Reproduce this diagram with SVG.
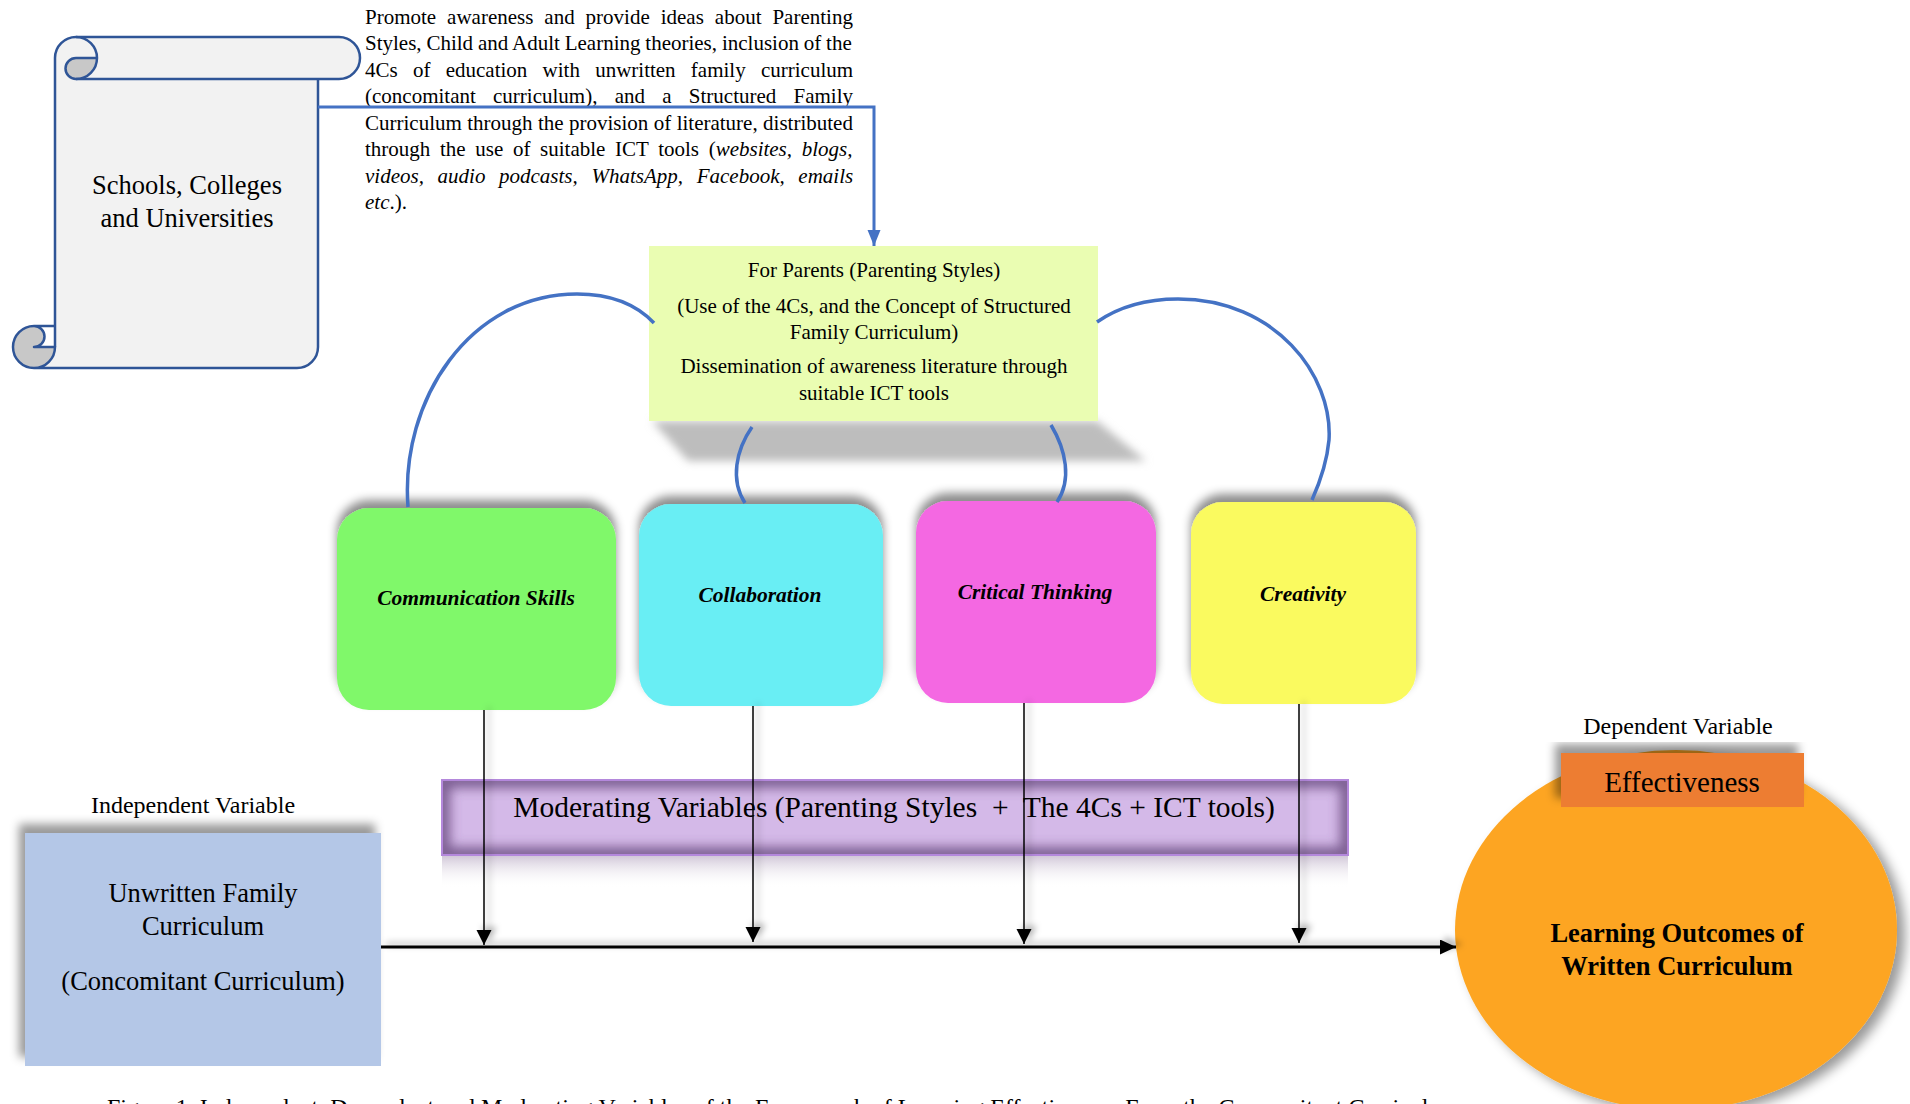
<svg xmlns="http://www.w3.org/2000/svg" width="1910" height="1104" viewBox="0 0 1910 1104">
  <defs>
    <style>
      .serif { font-family: "Liberation Serif", "Times New Roman", serif; fill: #000; }
      .para { font-size: 21px; }
      .lbl24 { font-size: 24px; }
      .four { font-size: 21.5px; font-weight: bold; font-style: italic; }
      .big { font-size: 26.5px; }
      .arc { fill: none; stroke: #4472C4; stroke-width: 3.5; }
      .vline { fill: none; stroke: #000; stroke-width: 1.5; marker-end: url(#arrowV); }
      .scroll-line { fill: none; stroke: #2F5597; stroke-width: 2.5; stroke-linejoin: round; }
    </style>
    <marker id="arrowV" markerUnits="userSpaceOnUse" markerWidth="16" markerHeight="16" refX="15" refY="7.5" orient="auto">
      <path d="M0,0 L15,7.5 L0,15 Z" fill="#000"/>
    </marker>
    <marker id="arrowH" markerUnits="userSpaceOnUse" markerWidth="18" markerHeight="16" refX="16" refY="7.5" orient="auto">
      <path d="M0,0 L16,7.5 L0,15 Z" fill="#000"/>
    </marker>
    <marker id="arrowBlue" markerUnits="userSpaceOnUse" markerWidth="18" markerHeight="16" refX="16" refY="6.5" orient="auto">
      <path d="M0,0 L16,6.5 L0,13 Z" fill="#4472C4"/>
    </marker>
    <filter id="shTop" x="-20%" y="-20%" width="140%" height="140%">
      <feGaussianBlur in="SourceAlpha" stdDeviation="5"/>
      <feOffset dx="0" dy="-8" result="o"/>
      <feFlood flood-color="#000" flood-opacity="0.45"/>
      <feComposite in2="o" operator="in"/>
      <feMerge><feMergeNode/><feMergeNode in="SourceGraphic"/></feMerge>
    </filter>
    <filter id="shTL" x="-20%" y="-20%" width="140%" height="140%">
      <feGaussianBlur in="SourceAlpha" stdDeviation="5"/>
      <feOffset dx="-6" dy="-9" result="o"/>
      <feFlood flood-color="#000" flood-opacity="0.4"/>
      <feComposite in2="o" operator="in"/>
      <feMerge><feMergeNode/><feMergeNode in="SourceGraphic"/></feMerge>
    </filter>
    <filter id="shBR" x="-20%" y="-20%" width="140%" height="140%">
      <feGaussianBlur in="SourceAlpha" stdDeviation="6"/>
      <feOffset dx="8" dy="5" result="o"/>
      <feFlood flood-color="#000" flood-opacity="0.4"/>
      <feComposite in2="o" operator="in"/>
      <feMerge><feMergeNode/><feMergeNode in="SourceGraphic"/></feMerge>
    </filter>
    <filter id="shLine" x="-50%" y="-50%" width="200%" height="200%">
      <feGaussianBlur in="SourceAlpha" stdDeviation="3"/>
      <feOffset dx="5" dy="-3" result="o"/>
      <feFlood flood-color="#000" flood-opacity="0.3"/>
      <feComposite in2="o" operator="in"/>
      <feMerge><feMergeNode/><feMergeNode in="SourceGraphic"/></feMerge>
    </filter>
    <filter id="blur4" x="-20%" y="-50%" width="140%" height="200%">
      <feGaussianBlur stdDeviation="4"/>
    </filter>
    <filter id="blur6" x="-20%" y="-50%" width="140%" height="200%">
      <feGaussianBlur stdDeviation="6"/>
    </filter>
    <clipPath id="modClip"><rect x="442" y="780" width="906" height="75"/></clipPath>
    <linearGradient id="reflect" x1="0" y1="0" x2="0" y2="1">
      <stop offset="0" stop-color="#9A84AA" stop-opacity="0.45"/>
      <stop offset="1" stop-color="#FFFFFF" stop-opacity="0"/>
    </linearGradient>
  </defs>

  <rect x="0" y="0" width="1910" height="1104" fill="#FFFFFF"/>

  <!-- Scroll node -->
  <g id="scroll">
    <path d="M34,368 A21,21 0 0 0 55,347 L55,58 A21,21 0 0 1 76,37 L339,37 A21,21 0 0 1 339,79 L318,79 L318,347 A21,21 0 0 1 297,368 Z" fill="#F2F2F2"/>
    <path d="M97,58 A21,21 0 0 1 76,79 A10.5,10.5 0 0 1 76,58 Z" fill="#C8C8C8"/>
    <path d="M34,326 A21,21 0 0 0 13,347 A21,21 0 0 0 34,368 A21,21 0 0 0 55,347 L34,347 A10.5,10.5 0 0 0 34,326 Z" fill="#C8C8C8"/>
    <path class="scroll-line" d="M55,347 L55,58 A21,21 0 0 1 76,37 L339,37 A21,21 0 0 1 339,79 L76,79"/>
    <path class="scroll-line" d="M76,37 A21,21 0 0 1 97,58 A21,21 0 0 1 76,79 M97,58 L76,58 A10.5,10.5 0 0 0 76,79"/>
    <path class="scroll-line" d="M318,79 L318,347 A21,21 0 0 1 297,368 L34,368 A21,21 0 0 1 13,347 A21,21 0 0 1 34,326 L55,326 M34,326 A10.5,10.5 0 0 1 34,347 L55,347 A21,21 0 0 1 34,368"/>
    <text class="serif big" x="187" y="194" text-anchor="middle">Schools, Colleges</text>
    <text class="serif big" x="187" y="227" text-anchor="middle">and Universities</text>
  </g>

  <!-- Paragraph -->
  <g id="paragraph" class="serif para">
    <text x="365" y="23.5" word-spacing="5.7">Promote awareness and provide ideas about Parenting</text>
    <text x="365" y="50" word-spacing="-0.4">Styles, Child and Adult Learning theories, inclusion of the</text>
    <text x="365" y="76.5" word-spacing="10">4Cs of education with unwritten family curriculum</text>
    <text x="365" y="103" word-spacing="12">(concomitant curriculum), and a Structured Family</text>
    <text x="365" y="129.5" word-spacing="0.15">Curriculum through the provision of literature, distributed</text>
    <text x="365" y="156" word-spacing="4.4">through the use of suitable ICT tools (<tspan font-style="italic">websites, blogs,</tspan></text>
    <text x="365" y="182.5" word-spacing="8.4" font-style="italic">videos, audio podcasts, WhatsApp, Facebook, emails</text>
    <text x="365" y="209"><tspan font-style="italic">etc</tspan>.).</text>
  </g>

  <!-- For Parents node -->
  <g id="parents">
    <polygon points="652,421 1097,421 1146,461 688,461" fill="#BDBDBD" filter="url(#blur4)"/>
    <rect x="649" y="246" width="449" height="175" fill="#EAFDB2"/>
    <g class="serif" font-size="21" text-anchor="middle">
      <text x="874" y="277">For Parents (Parenting Styles)</text>
      <text x="874" y="313">(Use of the 4Cs, and the Concept of Structured</text>
      <text x="874" y="339">Family Curriculum)</text>
      <text x="874" y="373">Dissemination of awareness literature through</text>
      <text x="874" y="400">suitable ICT tools</text>
    </g>
  </g>

  <!-- 4C nodes -->
  <g id="communication">
    <rect x="337" y="508" width="279" height="202" rx="32" ry="32" fill="#80F86A" filter="url(#shTop)"/>
    <text class="serif four" x="476" y="605" text-anchor="middle">Communication Skills</text>
  </g>
  <g id="collaboration">
    <rect x="639" y="504" width="244" height="202" rx="32" ry="32" fill="#69EEF4" filter="url(#shTop)"/>
    <text class="serif four" x="760" y="602" text-anchor="middle">Collaboration</text>
  </g>
  <g id="critical-thinking">
    <rect x="916" y="501" width="240" height="202" rx="32" ry="32" fill="#F468E2" filter="url(#shTop)"/>
    <text class="serif four" x="1035" y="599" text-anchor="middle">Critical Thinking</text>
  </g>
  <g id="creativity">
    <rect x="1191" y="502" width="225" height="202" rx="32" ry="32" fill="#FAFA5F" filter="url(#shTop)"/>
    <text class="serif four" x="1303" y="601" text-anchor="middle" font-size="25">Creativity</text>
  </g>

  <!-- Moderating variables node -->
  <g id="moderating">
    <rect x="442" y="856" width="906" height="32" fill="url(#reflect)"/>
    <rect x="442" y="780" width="906" height="75" fill="#D4B9E8"/>
    <rect x="442" y="780" width="906" height="75" fill="none" stroke="#5E3F76" stroke-width="16" opacity="0.75" filter="url(#blur6)" clip-path="url(#modClip)"/>
    <rect x="442" y="780" width="906" height="75" fill="none" stroke="#B488DC" stroke-width="2"/>
    <text class="serif" font-size="29.5" x="894" y="817" text-anchor="middle" xml:space="preserve">Moderating Variables (Parenting Styles  +  The 4Cs + ICT tools)</text>
  </g>

  <!-- Independent variable node -->
  <g id="independent">
    <text class="serif lbl24" x="193" y="813" text-anchor="middle">Independent Variable</text>
    <rect x="25" y="833" width="356" height="233" fill="#B4C7E7" filter="url(#shTL)"/>
    <text class="serif big" x="203" y="902" text-anchor="middle">Unwritten Family</text>
    <text class="serif big" x="203" y="935" text-anchor="middle">Curriculum</text>
    <text class="serif big" x="203" y="990" text-anchor="middle">(Concomitant Curriculum)</text>
  </g>

  <!-- Caption -->
  <text id="caption" class="serif" font-size="24" x="107" y="1115">Figure 1. Independent, Dependent and Moderating Variables of the Framework of Learning Effectiveness From the Concomitant Curriculum</text>

  <!-- Dependent variable node -->
  <g id="dependent">
    <text class="serif lbl24" x="1678" y="734" text-anchor="middle">Dependent Variable</text>
    <ellipse cx="1676" cy="930" rx="221" ry="180" fill="#FDA521" filter="url(#shBR)"/>
    <rect x="1561" y="753" width="243" height="54" fill="#ED7D31" filter="url(#shTL)"/>
    <text class="serif" font-size="29" x="1682" y="792" text-anchor="middle">Effectiveness</text>
    <text class="serif big" font-weight="bold" x="1677" y="942" text-anchor="middle">Learning Outcomes of</text>
    <text class="serif big" font-weight="bold" x="1677" y="975" text-anchor="middle">Written Curriculum</text>
  </g>

  <!-- Connectors -->
  <g id="connectors">
    <path d="M318,107 L874,107 L874,246" fill="none" stroke="#4472C4" stroke-width="3" marker-end="url(#arrowBlue)"/>
    <path class="arc" d="M654,323 C635,303 608,294 577,294 C470,294 400,400 408,507"/>
    <path class="arc" d="M1097,322 C1120,306 1148,299 1178,299 C1275,299 1333,375 1329,440 C1327,462 1320,482 1312,500"/>
    <path class="arc" d="M752,427 C736,450 730,480 745,503"/>
    <path class="arc" d="M1051,425 C1066,450 1072,480 1057,502"/>
    <g filter="url(#shLine)">
      <path class="vline" d="M484,710 L484,945"/>
      <path class="vline" d="M753,706 L753,942"/>
      <path class="vline" d="M1024,703 L1024,944"/>
      <path class="vline" d="M1299,704 L1299,943"/>
      <path d="M381,947 L1456,947" fill="none" stroke="#000" stroke-width="3" marker-end="url(#arrowH)"/>
    </g>
  </g>
</svg>
